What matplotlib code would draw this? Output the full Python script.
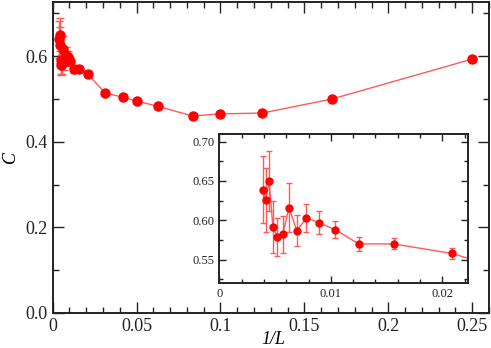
import matplotlib
matplotlib.use('agg')
import matplotlib.pyplot as plt
from matplotlib.ticker import MultipleLocator
import numpy as np

# system sizes and measured C with error bars
L = [256, 240, 224, 208, 192, 176, 160, 144, 128, 112, 96, 80, 64, 48,
     32, 24, 20, 16, 12, 10, 8, 6, 4]
C = [0.639, 0.626, 0.650, 0.591, 0.579, 0.582, 0.616, 0.587, 0.603, 0.597,
     0.588, 0.570, 0.570, 0.558, 0.514, 0.504, 0.495, 0.483, 0.460, 0.465,
     0.467, 0.500, 0.593]
C_err = [0.043, 0.041, 0.038, 0.033, 0.024, 0.024, 0.031, 0.020, 0.018, 0.015,
         0.011, 0.009, 0.007, 0.007, 0.004, 0.004, 0.003, 0.003, 0.003, 0.003,
         0.003, 0.003, 0.003]

main_xticks = [0, 0.05, 0.1, 0.15, 0.2, 0.25]
main_xlabels = ['0', '0.05', '0.1', '0.15', '0.2', '0.25']
main_yticks = [0.0, 0.2, 0.4, 0.6]
main_ylabels = ['0.0', '0.2', '0.4', '0.6']
inset_xticks = [0, 0.01, 0.02]
inset_xlabels = ['0', '0.01', '0.02']
inset_yticks = [0.55, 0.60, 0.65, 0.70]
inset_ylabels = ['0.55', '0.60', '0.65', '0.70']

inv_L = 1.0 / np.array(L, dtype=float)

plt.rcParams['font.family'] = 'Liberation Serif'

fig = plt.figure(figsize=(4.91, 3.48), dpi=100)

line_col = '#ff5a5a'


def style_axes(ax, size, major_len, minor_len):
    for sp in ax.spines.values():
        sp.set_linewidth(1.4)
        sp.set_color('#222222')
    ax.tick_params(which='both', direction='in', top=True, right=True,
                   labelsize=size, colors='#222222', width=1.0)
    ax.tick_params(which='major', length=major_len)
    ax.tick_params(which='minor', length=minor_len)


ax = fig.add_axes([0.1073, 0.1006, 0.8886, 0.8945])
ax.errorbar(inv_L, C, yerr=C_err, fmt='-', color=line_col, lw=1.0,
            ecolor=line_col, elinewidth=1.0, capsize=3, capthick=1.0, zorder=2)
ax.plot(inv_L, C, 'o', color='#ff0000', markersize=6.5, zorder=3)
ax.set_xlim(0, 0.26)
ax.set_ylim(0, 0.727)
ax.set_xticks(main_xticks)
ax.set_xticklabels(main_xlabels)
ax.set_yticks(main_yticks)
ax.set_yticklabels(main_ylabels)
ax.xaxis.set_minor_locator(MultipleLocator(0.01))
ax.yaxis.set_minor_locator(MultipleLocator(0.1))
style_axes(ax, 13, 8, 4)
ax.set_xlabel('1/L', fontsize=13, style='italic')
ax.set_ylabel('C', fontsize=13, style='italic')
ax.xaxis.set_label_coords(0.505, -0.058)
ax.yaxis.set_label_coords(-0.077, 0.5)

ins = fig.add_axes([0.4467, 0.186, 0.507, 0.429])
ins.errorbar(inv_L, C, yerr=C_err, fmt='-', color=line_col, lw=1.0,
             ecolor=line_col, elinewidth=1.0, capsize=2.5, capthick=1.0, zorder=2)
ins.plot(inv_L, C, 'o', color='#ff0000', markersize=5, zorder=3)
ins.set_xlim(0, 0.02233)
ins.set_ylim(0.52, 0.7097)
ins.set_xticks(inset_xticks)
ins.set_xticklabels(inset_xlabels)
ins.set_yticks(inset_yticks)
ins.set_yticklabels(inset_ylabels)
ins.xaxis.set_minor_locator(MultipleLocator(0.002))
ins.yaxis.set_minor_locator(MultipleLocator(0.025))
style_axes(ins, 9, 5, 3)

fig.savefig('out.png', dpi=100)
